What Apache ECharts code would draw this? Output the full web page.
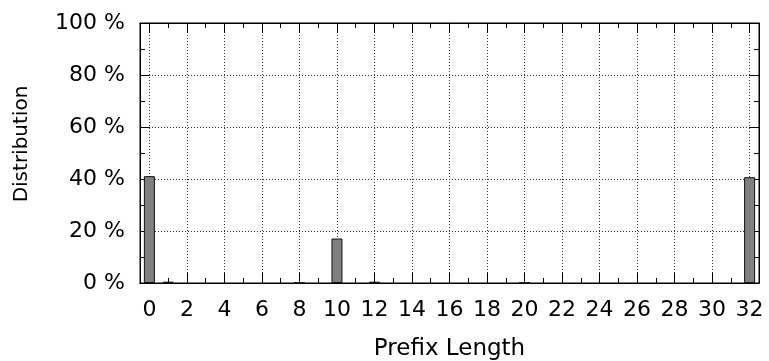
<!DOCTYPE html>
<html>
<head>
<meta charset="utf-8">
<script src="https://cdn.jsdelivr.net/npm/echarts@6/dist/echarts.min.js"></script>
<style>
html,body{margin:0;padding:0;background:#fff;}
#chart{width:769px;height:361px;}
</style>
</head>
<body>
<div id="chart"></div>
<script>
// Data
var prefixLengths = [0,1,2,3,4,5,6,7,8,9,10,11,12,13,14,15,16,17,18,19,20,21,22,23,24,25,26,27,28,29,30,31,32];
var distribution = [41.1,0.5,0,0,0,0,0,0,0.1,0,17.1,0,0.5,0,0,0,0,0,0,0,0.1,0,0,0,0,0,0,0,0,0,0,0,40.7];
var xTickLabels = [0,2,4,6,8,10,12,14,16,18,20,22,24,26,28,30,32];
var xMinorTicks = [1,3,5,7,9,11,13,15,17,19,21,23,25,27,29,31];

var FONT = 'DejaVu Sans';
var FS = 22;
var gridLine = {show:true, lineStyle:{color:'#333', width:1, type:[1,2]}};

var chart = echarts.init(document.getElementById('chart'), null, {renderer:'canvas'});

function xAx(pos, major, withLabel) {
  return {
    type:'value', position:pos, min:-0.5, max:32.5,
    axisLine:{show:true, onZero:false, lineStyle:{color:'#000', width:1}},
    axisTick:{show:true, inside:true, length: major ? 10 : 5,
      customValues: major ? xTickLabels : xMinorTicks,
      lineStyle:{color:'#000', width:1}},
    axisLabel:{show:withLabel, customValues: xTickLabels, margin:16,
      fontFamily:FONT, fontSize:FS, color:'#000'},
    splitLine: (major && withLabel) ? gridLine : {show:false},
    minorTick:{show:false}
  };
}

function yAx(pos, withLabel) {
  return {
    type:'value', position:pos, min:0, max:100, interval:20,
    axisLine:{show:true, onZero:false, lineStyle:{color:'#000', width:1}},
    axisTick:{show:true, inside:true, length:10, lineStyle:{color:'#000'}},
    minorTick:{show:true, splitNumber:2, length:5, lineStyle:{color:'#000'}},
    axisLabel:{show:withLabel, formatter:'{value} %', margin:15, fontFamily:FONT, fontSize:FS, color:'#000'},
    splitLine: withLabel ? gridLine : {show:false}
  };
}

var yLeft = yAx('left', true);
yLeft.name = 'Distribution';
yLeft.nameLocation = 'middle';
yLeft.nameGap = 108;
yLeft.nameTextStyle = {fontFamily:FONT, fontSize:20, color:'#000', padding:[0,0,0,18]};

var xBottom = xAx('bottom', true, true);
xBottom.name = 'Prefix Length';
xBottom.nameLocation = 'middle';
xBottom.nameGap = 55;
xBottom.nameTextStyle = {fontFamily:FONT, fontSize:23, color:'#000'};

var option = {
  animation:false,
  backgroundColor:'#fff',
  grid:{left:140, right:10, top:23, bottom:78, containLabel:false, outerBoundsMode:'none',
        show:true, borderColor:'#000', borderWidth:1, backgroundColor:'transparent'},
  xAxis:[ xBottom, xAx('bottom', false, false), xAx('top', true, false), xAx('top', false, false) ],
  yAxis:[ yLeft, yAx('right', false) ],
  series:[{
    type:'bar', xAxisIndex:0, yAxisIndex:0,
    barWidth:11,
    data: prefixLengths.map(function(p,i){ return [p, distribution[i] === 0 ? null : distribution[i]]; }),
    itemStyle:{color:'#808080', borderColor:'#111', borderWidth:1},
    z:3
  }]
};
chart.setOption(option);
</script>
</body>
</html>
